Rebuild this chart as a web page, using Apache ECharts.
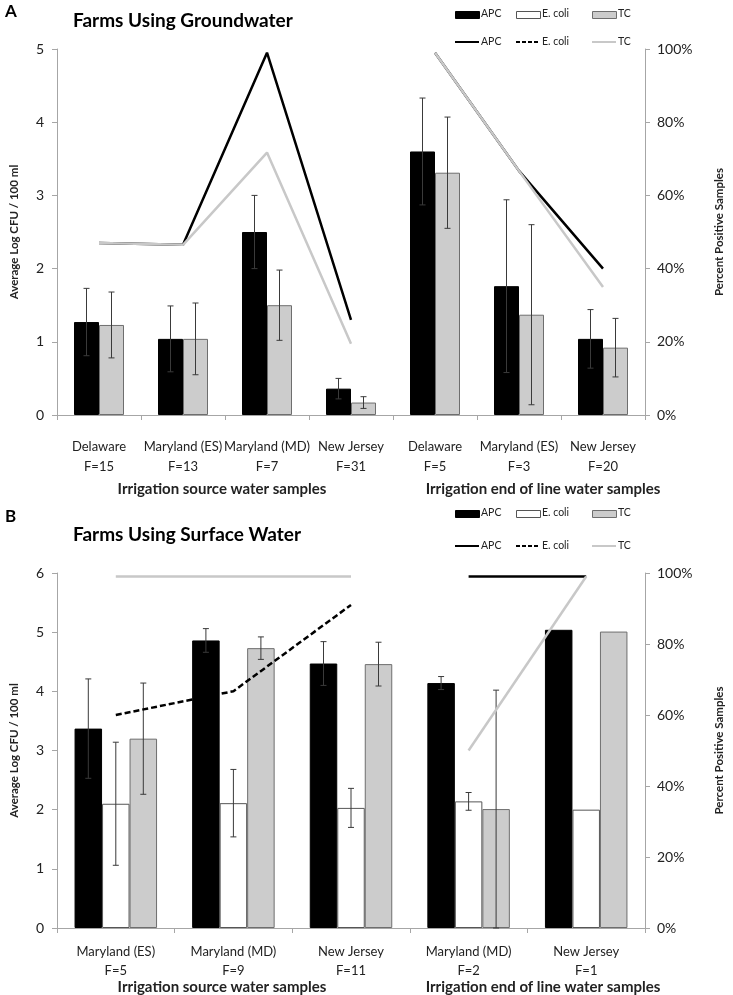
<!DOCTYPE html>
<html>
<head>
<meta charset="utf-8">
<script src="https://cdn.jsdelivr.net/npm/echarts@6/dist/echarts.min.js"></script>
<style>
html,body{margin:0;padding:0;background:#fff;}
#c{width:733px;height:995px;}
</style>
</head>
<body>
<div id="c"></div>
<script>
// ---------- Data: Panel A (groundwater) ----------
const catsA = ['Delaware\nF=15','Maryland (ES)\nF=13','Maryland (MD)\nF=7','New Jersey\nF=31','Delaware\nF=5','Maryland (ES)\nF=3','New Jersey\nF=20'];
const apcA = [1.27, 1.04, 2.50, 0.36, 3.60, 1.76, 1.04];
const apcErrA = [0.46, 0.45, 0.50, 0.14, 0.73, 1.18, 0.40];
const tcA = [1.23, 1.04, 1.50, 0.17, 3.31, 1.37, 0.92];
const tcErrA = [0.45, 0.49, 0.48, 0.08, 0.76, 1.23, 0.40];
const apcPctSrcA = [47, 46.5, 99, 26, '-', '-', '-'];
const tcPctSrcA  = [47, 46.5, 71.7, 19.5, '-', '-', '-'];
const apcPctEndA = ['-', '-', '-', '-', 99, 66.7, 40];
const tcPctEndA  = ['-', '-', '-', '-', 99, 66.7, 35];

// ---------- Data: Panel B (surface water) ----------
const catsB = ['Maryland (ES)\nF=5','Maryland (MD)\nF=9','New Jersey\nF=11','Maryland (MD)\nF=2','New Jersey\nF=1'];
const apcB = [3.37, 4.86, 4.47, 4.14, 5.04];
const apcErrB = [0.84, 0.20, 0.37, 0.11, 0];
const ecoliB = [2.10, 2.11, 2.03, 2.14, 2.00];
const ecoliErrB = [1.04, 0.57, 0.33, 0.15, 0];
const tcB = [3.20, 4.73, 4.46, 2.01, 5.01];
const tcErrB = [0.94, 0.19, 0.37, 2.01, 0];
const tcPctSrcB = [99, 99, 99, '-', '-'];
const ecoliPctSrcB = [60, 66.7, 91, '-', '-'];
const apcPctEndB = ['-', '-', '-', 99, 99];
const tcPctEndB = ['-', '-', '-', 50, 99];

const groupLabels = ['Irrigation source water samples', 'Irrigation end of line water samples'];
const legendNames = ['APC', 'E. coli', 'TC'];

// ---------- Styles ----------
const FONT = 'Lato';
const AXC = '#a6a6a6';
const TXT = '#222';
const BW_A = 25, BW_B = 27.5;
const GRAY_FILL = '#cccccc', BAR_BORDER = '#6e6e6e';

const chart = echarts.init(document.getElementById('c'), null, {renderer: 'canvas'});

function xAxis(data, gi, margin, lh) {
  return {
    type: 'category', gridIndex: gi, data: data,
    axisLine: {lineStyle: {color: AXC, width: 1}},
    axisTick: {show: true, length: 5, lineStyle: {color: AXC}},
    axisLabel: {fontFamily: FONT, fontSize: 13, color: TXT, lineHeight: lh, margin: margin, interval: 0}
  };
}
function yLeft(gi, max) {
  return {
    type: 'value', gridIndex: gi, min: 0, max: max, interval: 1, position: 'left',
    name: 'Average Log CFU / 100 ml', nameLocation: 'middle', nameRotate: 90, nameGap: 37,
    nameTextStyle: {fontFamily: FONT, fontSize: 11.5, fontWeight: 'bold', color: TXT},
    axisLine: {show: true, lineStyle: {color: AXC}},
    axisTick: {show: true, length: 5, lineStyle: {color: AXC}},
    splitLine: {show: false},
    axisLabel: {fontFamily: FONT, fontSize: 14, color: TXT, margin: 13}
  };
}
function yRight(gi) {
  return {
    type: 'value', gridIndex: gi, min: 0, max: 100, interval: 20, position: 'right',
    name: 'Percent Positive Samples', nameLocation: 'middle', nameRotate: 90, nameGap: 68,
    nameTextStyle: {fontFamily: FONT, fontSize: 11.5, fontWeight: 'bold', color: TXT},
    axisLine: {show: true, lineStyle: {color: AXC}},
    axisTick: {show: true, length: 5, lineStyle: {color: AXC}},
    splitLine: {show: false},
    axisLabel: {fontFamily: FONT, fontSize: 14, color: TXT, margin: 12, formatter: '{value}%'}
  };
}
function barSeries(name, data, xi, yi, color, bw, border) {
  return {
    type: 'bar', name: name, xAxisIndex: xi, yAxisIndex: yi, data: data,
    barWidth: bw, barGap: '0%',
    itemStyle: {color: color, borderColor: border, borderWidth: 1},
    z: 2, silent: true
  };
}
function errSeries(vals, errs, xi, yi, offset) {
  return {
    type: 'custom', xAxisIndex: xi, yAxisIndex: yi, z: 5, silent: true,
    data: vals.map((v, i) => [i, v, errs[i]]),
    renderItem: function (params, api) {
      const i = api.value(0), v = api.value(1), e = api.value(2);
      if (!e) return null;
      const t = api.coord([i, v + e]);
      const b = api.coord([i, Math.max(0, v - e)]);
      const x = t[0] + offset;
      const st = {stroke: '#3a3a3a', lineWidth: 1};
      const cap = 3;
      return {type: 'group', children: [
        {type: 'line', shape: {x1: x, y1: t[1], x2: x, y2: b[1]}, style: st},
        {type: 'line', shape: {x1: x - cap, y1: t[1], x2: x + cap, y2: t[1]}, style: st},
        {type: 'line', shape: {x1: x - cap, y1: b[1], x2: x + cap, y2: b[1]}, style: st}
      ]};
    }
  };
}
function lineSeries(data, xi, yi, color, dashed, z) {
  return {
    type: 'line', xAxisIndex: xi, yAxisIndex: yi, data: data,
    showSymbol: false, symbol: 'none', connectNulls: false, silent: true,
    lineStyle: {color: color, width: 2.5, type: dashed ? [6, 3] : 'solid'},
    z: z
  };
}

// legend & text graphics
function legendGraphics(y1, y2) {
  const xs = [455, 516, 592];
  const g = [];
  const fills = ['#000', '#fff', GRAY_FILL];
  const borders = ['#000', '#555', BAR_BORDER];
  const lineColors = ['#000', '#000', '#c8c8c8'];
  for (let k = 0; k < 3; k++) {
    g.push({type: 'rect', left: xs[k], top: y1 - 3, shape: {width: 24, height: 7},
      style: {fill: fills[k], stroke: borders[k], lineWidth: 1}});
    g.push({type: 'text', left: xs[k] + 26, top: y1 - 6,
      style: {text: legendNames[k], font: '10.5px ' + FONT, fill: TXT}});
    g.push({type: 'line', shape: {x1: xs[k], y1: y2, x2: xs[k] + 24, y2: y2},
      style: {stroke: lineColors[k], lineWidth: 2, lineDash: k === 1 ? [4, 2] : null}});
    g.push({type: 'text', left: xs[k] + 26, top: y2 - 6,
      style: {text: legendNames[k], font: '10.5px ' + FONT, fill: TXT}});
  }
  return g;
}
function centerText(txt, cx, cy, font) {
  return {type: 'text', x: cx, y: cy,
    style: {text: txt, font: font, fill: TXT, textAlign: 'center', textVerticalAlign: 'middle'}};
}
function leftText(txt, lx, cy, font) {
  return {type: 'text', x: lx, y: cy,
    style: {text: txt, font: font, fill: '#000', textAlign: 'left', textVerticalAlign: 'middle'}};
}

const graphics = [].concat(
  [leftText('A', 5, 12, 'bold 17px ' + FONT),
   leftText('Farms Using Groundwater', 73, 21, 'bold 19px ' + FONT),
   leftText('B', 5, 517, 'bold 17px ' + FONT),
   leftText('Farms Using Surface Water', 73, 535, 'bold 19px ' + FONT),
   centerText(groupLabels[0], 222, 489, 'bold 15px ' + FONT),
   centerText(groupLabels[1], 543, 489, 'bold 15px ' + FONT),
   centerText(groupLabels[0], 222, 987, 'bold 15px ' + FONT),
   centerText(groupLabels[1], 543, 987, 'bold 15px ' + FONT)],
  legendGraphics(14, 42),
  legendGraphics(513, 546)
);

const option = {
  animation: false,
  backgroundColor: '#fff',
  textStyle: {fontFamily: FONT},
  grid: [
    {left: 46, top: 49, width: 615, height: 366},
    {left: 44, top: 573, width: 619, height: 355}
  ],
  xAxis: [xAxis(catsA, 0, 22, 20), xAxis(catsB, 1, 14, 19)],
  yAxis: [yLeft(0, 5), yRight(0), yLeft(1, 6), yRight(1)],
  series: [
    // Panel A bars
    barSeries('APC', apcA, 0, 0, '#000', BW_A, '#000'),
    barSeries('TC', tcA, 0, 0, GRAY_FILL, BW_A, BAR_BORDER),
    errSeries(apcA, apcErrA, 0, 0, -BW_A / 2),
    errSeries(tcA, tcErrA, 0, 0, BW_A / 2),
    // Panel A lines
    lineSeries(apcPctSrcA, 0, 1, '#000', false, 6),
    lineSeries(tcPctSrcA, 0, 1, '#c8c8c8', false, 7),
    lineSeries(apcPctEndA, 0, 1, '#000', false, 6),
    lineSeries(tcPctEndA, 0, 1, '#c8c8c8', false, 7),
    // Panel B bars
    barSeries('APC', apcB, 1, 2, '#000', BW_B, '#000'),
    barSeries('E. coli', ecoliB, 1, 2, '#fff', BW_B, '#555'),
    barSeries('TC', tcB, 1, 2, GRAY_FILL, BW_B, BAR_BORDER),
    errSeries(apcB, apcErrB, 1, 2, -BW_B),
    errSeries(ecoliB, ecoliErrB, 1, 2, 0),
    errSeries(tcB, tcErrB, 1, 2, BW_B),
    // Panel B lines
    lineSeries(tcPctSrcB, 1, 3, '#c8c8c8', false, 7),
    lineSeries(ecoliPctSrcB, 1, 3, '#000', true, 6),
    lineSeries(apcPctEndB, 1, 3, '#000', false, 6),
    lineSeries(tcPctEndB, 1, 3, '#c8c8c8', false, 7)
  ],
  graphic: graphics
};
chart.setOption(option);
</script>
</body>
</html>
